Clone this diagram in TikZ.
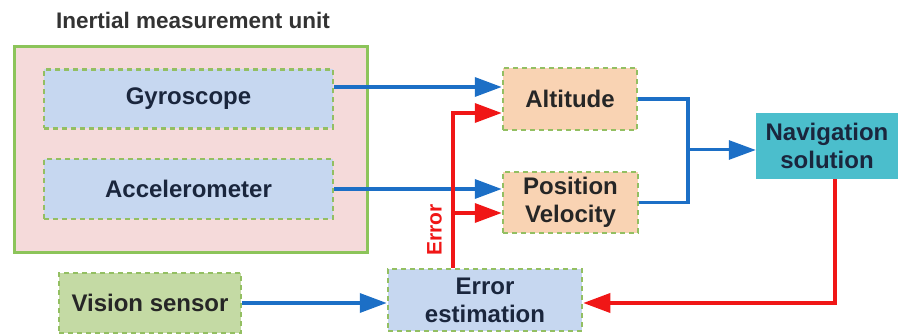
\documentclass[tikz,border=0pt]{standalone}
\usepackage{fontspec}
\setmainfont{Liberation Sans}
\usetikzlibrary{arrows.meta}

\definecolor{imufill}{HTML}{F5DADA}
\definecolor{imuedge}{HTML}{8CC45A}
\definecolor{dashgreen}{HTML}{93BF62}
\definecolor{sensorblue}{HTML}{C6D7F0}
\definecolor{statepeach}{HTML}{F9D3B3}
\definecolor{visiongreen}{HTML}{C4DAA4}
\definecolor{navteal}{HTML}{4BBECC}
\definecolor{flowblue}{HTML}{1C6FC6}
\definecolor{flowred}{HTML}{F01616}
\definecolor{textnavy}{HTML}{1A263D}

\tikzset{
    box/.style={rectangle, inner sep=0pt, align=center, font=\fontsize{24}{28}\selectfont\bfseries},
    dashbox/.style={box, draw=dashgreen, line width=2.5pt, dash pattern=on 5pt off 4pt},
    blueflow/.style={draw=flowblue, line width=3.5pt},
    redflow/.style={draw=flowred, line width=3.5pt},
    bluearrow/.style={blueflow, -{Triangle[length=27pt,width=19pt]}},
    redarrow/.style={redflow, -{Triangle[length=27pt,width=19pt]}}
}

\begin{document}
\begin{tikzpicture}[x=1pt, y=-1pt]
    \useasboundingbox (0,0) rectangle (900,336);

    % IMU frame
    \node[box, fill=imufill, draw=imuedge, line width=3pt, minimum width=353pt, minimum height=206pt] (imu) at (190.5,150) {};
    \node[font=\fontsize{22.5}{26}\selectfont\bfseries, text=black!80] (imutitle) at (193,20) {Inertial measurement unit};

    % Sensors
    \node[dashbox, fill=sensorblue, text=textnavy, minimum width=289pt, minimum height=59pt] (gyro) at (188.5,99) {Gyroscope};
    \node[dashbox, fill=sensorblue, text=textnavy, minimum width=289pt, minimum height=60pt] (accel) at (188.5,189) {Accelerometer};
    \node[dashbox, fill=visiongreen, text=black!85, minimum width=182pt, minimum height=60pt] (vision) at (150,303) {Vision sensor};

    % States
    \node[dashbox, fill=statepeach, text=black!85, minimum width=134pt, minimum height=62pt] (alt) at (570,99) {Altitude};
    \node[dashbox, fill=statepeach, text=black!85, minimum width=135pt, minimum height=61pt] (posvel) at (570.5,202.5) {Position\\Velocity};

    % Output and estimator
    \node[box, fill=navteal, text=textnavy, minimum width=142pt, minimum height=66pt] (nav) at (827,146) {Navigation\\solution};
    \node[dashbox, fill=sensorblue, text=textnavy, minimum width=194pt, minimum height=62pt] (errest) at (485,300) {Error\\estimation};

    % Sensor flows
    \draw[bluearrow] ([yshift=12pt]gyro.east) -- ([yshift=12pt]alt.west);
    \draw[bluearrow] (accel.east) -- (accel.east -| posvel.west);
    \draw[bluearrow] (vision.east) -- (vision.east -| errest.west);

    % Merge into navigation solution
    \coordinate (merge) at (688,150);
    \draw[blueflow] (alt.east) -| (merge) |- (posvel.east);
    \draw[bluearrow, line width=3pt] (merge) -- (merge -| nav.west);

    % Error feedback
    \coordinate (errup) at ([xshift=-32pt]errest.north);
    \coordinate (altin) at ([yshift=-14pt]alt.west);
    \coordinate (pvin) at ([yshift=-10.5pt]posvel.west);
    \draw[redarrow] (errup) |- (altin);
    \draw[redarrow] (errup |- pvin) -- (pvin);
    \draw[redarrow] ([xshift=8pt]nav.south) |- ([yshift=-3pt]errest.east);
    \node[rotate=90, text=flowred, font=\fontsize{21}{24}\selectfont\bfseries] (errlabel) at (434.5,230) {Error};
\end{tikzpicture}
\end{document}
